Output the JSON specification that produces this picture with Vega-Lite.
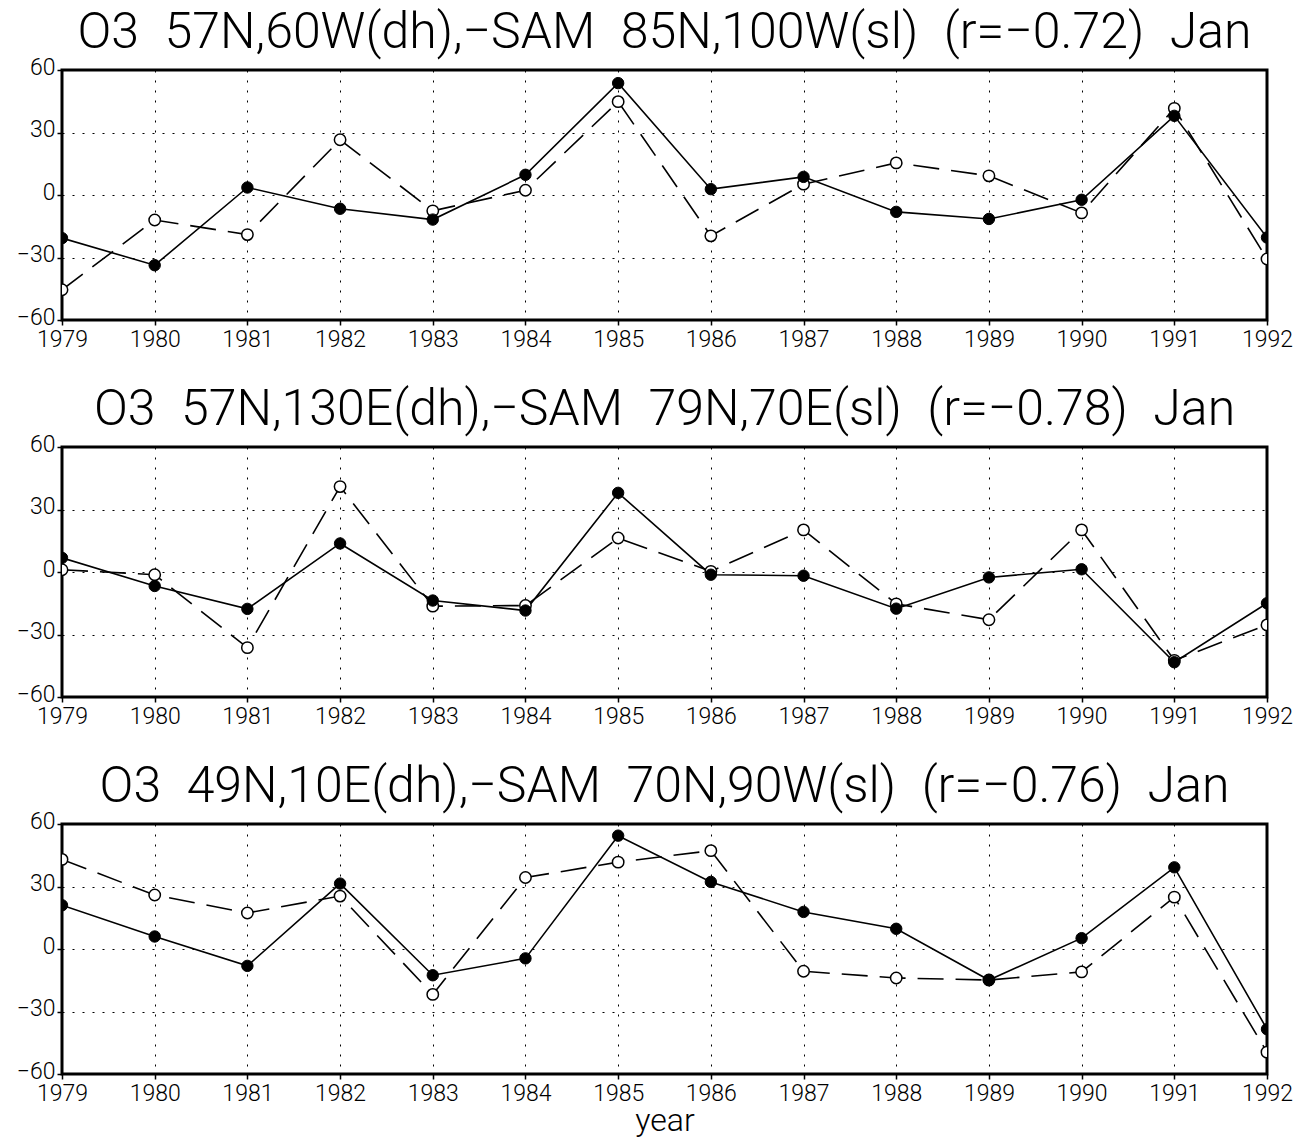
{
  "$schema": "https://vega.github.io/schema/vega-lite/v6.json",
  "background": "white",
  "padding": {"left": 14, "top": 6, "right": 25, "bottom": 0},
  "spacing": 30,
  "config": {
    "view": {"stroke": "black", "strokeWidth": 3},
    "axis": {"labelFont": "Roboto", "labelFontWeight": 300, "labelFontSize": 23, "labelColor": "black", "tickColor": "black", "tickSize": 5, "tickWidth": 1.5, "domain": false, "grid": true, "gridColor": "black", "gridDash": [2, 8], "gridWidth": 1, "gridOpacity": 1, "titleFont": "Roboto", "titleFontWeight": 300, "titleColor": "black", "labelFlush": false},
    "axisX": {"labelPadding": 3},
    "axisY": {"labelPadding": 2, "labelOffset": -3},
    "title": {"font": "Roboto", "fontSize": 50, "fontWeight": 300, "color": "black", "anchor": "middle", "offset": -2}
  },
  "datasets": {
    "d": [
      {"p": 1, "year": 1979, "sol": -20.7, "dash": -45.5},
      {"p": 1, "year": 1980, "sol": -33.7, "dash": -12},
      {"p": 1, "year": 1981, "sol": 3.6, "dash": -19},
      {"p": 1, "year": 1982, "sol": -6.6, "dash": 26.5},
      {"p": 1, "year": 1983, "sol": -11.8, "dash": -7.6},
      {"p": 1, "year": 1984, "sol": 9.7, "dash": 2.3},
      {"p": 1, "year": 1985, "sol": 53.7, "dash": 44.8},
      {"p": 1, "year": 1986, "sol": 2.8, "dash": -19.6},
      {"p": 1, "year": 1987, "sol": 8.7, "dash": 5.2},
      {"p": 1, "year": 1988, "sol": -8.1, "dash": 15.4},
      {"p": 1, "year": 1989, "sol": -11.5, "dash": 9.2},
      {"p": 1, "year": 1990, "sol": -2.3, "dash": -8.6},
      {"p": 1, "year": 1991, "sol": 38, "dash": 41.6},
      {"p": 1, "year": 1992, "sol": -20.4, "dash": -30.7},
      {"p": 2, "year": 1979, "sol": 6.8, "dash": 1.1},
      {"p": 2, "year": 1980, "sol": -6.7, "dash": -1.3},
      {"p": 2, "year": 1981, "sol": -17.7, "dash": -36.3},
      {"p": 2, "year": 1982, "sol": 13.7, "dash": 41},
      {"p": 2, "year": 1983, "sol": -13.7, "dash": -16.4},
      {"p": 2, "year": 1984, "sol": -18.5, "dash": -16.1},
      {"p": 2, "year": 1985, "sol": 38, "dash": 16.3},
      {"p": 2, "year": 1986, "sol": -1.3, "dash": 0.3},
      {"p": 2, "year": 1987, "sol": -1.8, "dash": 20.2},
      {"p": 2, "year": 1988, "sol": -17.6, "dash": -15.3},
      {"p": 2, "year": 1989, "sol": -2.6, "dash": -22.9},
      {"p": 2, "year": 1990, "sol": 1.3, "dash": 20.2},
      {"p": 2, "year": 1991, "sol": -43.3, "dash": -42.4},
      {"p": 2, "year": 1992, "sol": -15, "dash": -25.4},
      {"p": 3, "year": 1979, "sol": 21, "dash": 43},
      {"p": 3, "year": 1980, "sol": 6, "dash": 25.9},
      {"p": 3, "year": 1981, "sol": -8.1, "dash": 17.3},
      {"p": 3, "year": 1982, "sol": 31.4, "dash": 25.4},
      {"p": 3, "year": 1983, "sol": -12.6, "dash": -21.8},
      {"p": 3, "year": 1984, "sol": -4.5, "dash": 34.3},
      {"p": 3, "year": 1985, "sol": 54.4, "dash": 41.7},
      {"p": 3, "year": 1986, "sol": 32.2, "dash": 47.2},
      {"p": 3, "year": 1987, "sol": 17.8, "dash": -10.7},
      {"p": 3, "year": 1988, "sol": 9.7, "dash": -13.9},
      {"p": 3, "year": 1989, "sol": -14.9, "dash": -14.9},
      {"p": 3, "year": 1990, "sol": 5.2, "dash": -11},
      {"p": 3, "year": 1991, "sol": 39.2, "dash": 24.9},
      {"p": 3, "year": 1992, "sol": -38.5, "dash": -49.5}
    ]
  },
  "vconcat": [
    {
      "title": "O3\u200257N,60W(dh),\u2212SAM\u200285N,100W(sl)\u2002(r=\u22120.72)\u2002Jan",
      "width": 1205, "height": 250,
      "data": {"name": "d"},
      "transform": [{"filter": "datum.p == 1"}],
      "encoding": {
        "x": {"field": "year", "type": "quantitative", "scale": {"domain": [1979, 1992], "nice": false, "zero": false}, "axis": {"values": [1979,1980,1981,1982,1983,1984,1985,1986,1987,1988,1989,1990,1991,1992], "format": "d", "title": null}}
      },
      "layer": [
        {"mark": {"type": "line", "color": "black", "strokeWidth": 1.6, "strokeDash": [26, 12], "clip": true}, "encoding": {"y": {"field": "dash", "type": "quantitative", "scale": {"domain": [-60, 60], "nice": false}, "axis": {"values": [-60, -30, 0, 30, 60], "title": null}}}},
        {"mark": {"type": "line", "color": "black", "strokeWidth": 1.6, "clip": true}, "encoding": {"y": {"field": "sol", "type": "quantitative"}}},
        {"mark": {"type": "point", "shape": "circle", "filled": true, "fill": "white", "stroke": "black", "strokeWidth": 1.5, "size": 130, "opacity": 1, "clip": true}, "encoding": {"y": {"field": "dash", "type": "quantitative"}}},
        {"mark": {"type": "point", "shape": "circle", "filled": true, "fill": "black", "stroke": "black", "strokeWidth": 1, "size": 130, "opacity": 1, "clip": true}, "encoding": {"y": {"field": "sol", "type": "quantitative"}}}
      ]
    },
    {
      "title": "O3\u200257N,130E(dh),\u2212SAM\u200279N,70E(sl)\u2002(r=\u22120.78)\u2002Jan",
      "width": 1205, "height": 250,
      "data": {"name": "d"},
      "transform": [{"filter": "datum.p == 2"}],
      "encoding": {
        "x": {"field": "year", "type": "quantitative", "scale": {"domain": [1979, 1992], "nice": false, "zero": false}, "axis": {"values": [1979,1980,1981,1982,1983,1984,1985,1986,1987,1988,1989,1990,1991,1992], "format": "d", "title": null}}
      },
      "layer": [
        {"mark": {"type": "line", "color": "black", "strokeWidth": 1.6, "strokeDash": [26, 12], "clip": true}, "encoding": {"y": {"field": "dash", "type": "quantitative", "scale": {"domain": [-60, 60], "nice": false}, "axis": {"values": [-60, -30, 0, 30, 60], "title": null}}}},
        {"mark": {"type": "line", "color": "black", "strokeWidth": 1.6, "clip": true}, "encoding": {"y": {"field": "sol", "type": "quantitative"}}},
        {"mark": {"type": "point", "shape": "circle", "filled": true, "fill": "white", "stroke": "black", "strokeWidth": 1.5, "size": 130, "opacity": 1, "clip": true}, "encoding": {"y": {"field": "dash", "type": "quantitative"}}},
        {"mark": {"type": "point", "shape": "circle", "filled": true, "fill": "black", "stroke": "black", "strokeWidth": 1, "size": 130, "opacity": 1, "clip": true}, "encoding": {"y": {"field": "sol", "type": "quantitative"}}}
      ]
    },
    {
      "title": "O3\u200249N,10E(dh),\u2212SAM\u200270N,90W(sl)\u2002(r=\u22120.76)\u2002Jan",
      "width": 1205, "height": 250,
      "data": {"name": "d"},
      "transform": [{"filter": "datum.p == 3"}],
      "encoding": {
        "x": {"field": "year", "type": "quantitative", "scale": {"domain": [1979, 1992], "nice": false, "zero": false}, "axis": {"values": [1979,1980,1981,1982,1983,1984,1985,1986,1987,1988,1989,1990,1991,1992], "format": "d", "title": "year", "titleFontSize": 32, "titlePadding": 0}}
      },
      "layer": [
        {"mark": {"type": "line", "color": "black", "strokeWidth": 1.6, "strokeDash": [26, 12], "clip": true}, "encoding": {"y": {"field": "dash", "type": "quantitative", "scale": {"domain": [-60, 60], "nice": false}, "axis": {"values": [-60, -30, 0, 30, 60], "title": null}}}},
        {"mark": {"type": "line", "color": "black", "strokeWidth": 1.6, "clip": true}, "encoding": {"y": {"field": "sol", "type": "quantitative"}}},
        {"mark": {"type": "point", "shape": "circle", "filled": true, "fill": "white", "stroke": "black", "strokeWidth": 1.5, "size": 130, "opacity": 1, "clip": true}, "encoding": {"y": {"field": "dash", "type": "quantitative"}}},
        {"mark": {"type": "point", "shape": "circle", "filled": true, "fill": "black", "stroke": "black", "strokeWidth": 1, "size": 130, "opacity": 1, "clip": true}, "encoding": {"y": {"field": "sol", "type": "quantitative"}}}
      ]
    }
  ]
}
